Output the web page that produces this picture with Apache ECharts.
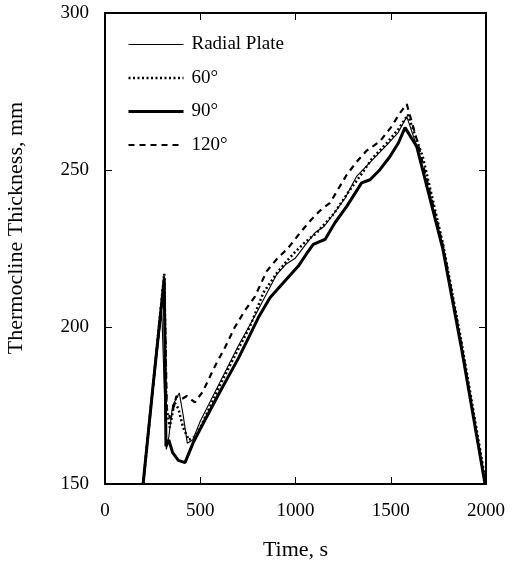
<!DOCTYPE html>
<html>
<head>
<meta charset="utf-8">
<script src="https://cdn.jsdelivr.net/npm/echarts@6/dist/echarts.min.js"></script>
<style>
html,body{margin:0;padding:0;background:#fff;}
#chart{width:517px;height:566px;}
</style>
</head>
<body>
<div id="chart"></div>
<script>
// Tick labels
const xTicks = [0, 500, 1000, 1500, 2000];
const yTicks = [150, 200, 250, 300];
const seriesNames = ['Radial Plate', '60°', '90°', '120°'];
const xTitle = 'Time, s';
const yTitle = 'Thermocline Thickness, mm';

// Radial Plate (thin solid)
const radialT = [200, 250, 298, 322, 335, 355, 390, 410, 432, 460, 500, 600, 700, 800, 901, 950, 1000, 1050, 1102, 1150, 1200, 1260, 1321, 1400, 1480, 1540, 1584, 1640, 1774, 1872, 1995];
const radialV = [150, 179, 205, 161, 165, 175, 179, 172, 163, 164, 170, 182, 194, 205, 216.7, 220, 222, 226, 230, 232, 236, 241, 248, 253, 258, 262, 267, 257, 225.5, 193.5, 150];

// 60 deg (dotted)
const deg60T = [200, 250, 311, 322, 340, 365, 385, 410, 440, 470, 500, 600, 700, 760, 831, 900, 954, 1000, 1050, 1111, 1200, 1286, 1350, 1400, 1479, 1540, 1590, 1669, 1774, 1872, 2000];
const deg60V = [150, 180, 217, 175, 168, 176, 174, 168, 164, 165, 168, 181, 193, 200, 210.9, 217, 221, 224, 227, 230, 236, 243.7, 249, 253.5, 258.6, 263, 267.6, 254, 226.5, 195, 150];

// 90 deg (thick solid)
const deg90T = [200, 250, 311, 320, 335, 355, 385, 420, 462, 500, 600, 700, 761, 805, 866, 936, 1015, 1060, 1093, 1155, 1207, 1269, 1347, 1391, 1443, 1496, 1540, 1575, 1636, 1774, 1872, 1995];
const deg90V = [150, 180, 215.5, 162, 164, 160, 157.5, 156.8, 163, 167.5, 179, 190, 197.5, 203, 209.3, 214.1, 219.4, 223.5, 226.3, 227.9, 233.2, 238.4, 245.9, 246.9, 250.1, 254.3, 258.6, 263.5, 257.5, 224.7, 193, 150];

// 120 deg (dashed)
const deg120T = [200, 250, 311, 325, 345, 375, 400, 430, 472, 514, 577, 630, 682, 735, 787, 849, 900, 962, 1024, 1080, 1129, 1181, 1269, 1320, 1374, 1443, 1500, 1548, 1584, 1640, 1774, 1872, 1995];
const deg120V = [150, 180, 215, 173, 171, 178, 177, 178, 176, 179.5, 187.5, 193.5, 200, 205.3, 209.7, 217.8, 221.5, 225.2, 230, 234, 237.1, 239.5, 248.5, 252.5, 256.2, 259.1, 263.5, 268.1, 271, 259, 226, 194, 150];

function pairs(t, v) { return t.map((x, i) => [x, v[i]]); }

const FONT = '"Liberation Serif", "Times New Roman", serif';
const chart = echarts.init(document.getElementById('chart'), null, {renderer: 'canvas'});

const axisLine = {show: true, onZero: false, lineStyle: {color: '#000', width: 2}};
const axisTick = {show: true, inside: true, length: 7, lineStyle: {color: '#000', width: 1}};

const styles = [
  {color: '#000', width: 1.1, type: 'solid'},
  {color: '#000', width: 2.5, type: [2, 2.5]},
  {color: '#000', width: 3, type: 'solid'},
  {color: '#000', width: 2.2, type: [6, 5]}
];

chart.setOption({
  animation: false,
  backgroundColor: '#fff',
  grid: {left: 105, right: 31, top: 13, bottom: 82, containLabel: false},
  legend: {
    orient: 'vertical',
    left: 122,
    top: 30,
    itemWidth: 55,
    itemHeight: 14,
    itemGap: 14.5,
    data: seriesNames.map((n, i) => ({name: n, lineStyle: styles[i]})),
    itemStyle: {opacity: 0, borderWidth: 0},
    textStyle: {fontFamily: FONT, fontSize: 19, color: '#000', padding: [0, 0, 0, 3]}
  },
  graphic: [
    {
      type: 'text', x: 16, y: 228, rotation: Math.PI / 2,
      style: {text: yTitle, fontFamily: FONT, fontSize: 22, fill: '#000', align: 'center', verticalAlign: 'middle'}
    }
  ],
  xAxis: [
    {
      type: 'value', position: 'bottom', min: 0, max: 2000, interval: 500,
      axisLine: axisLine, axisTick: axisTick, splitLine: {show: false},
      axisLabel: {fontFamily: FONT, fontSize: 19, color: '#000', margin: 18,
        formatter: v => xTicks.includes(v) ? String(v) : ''},
      name: xTitle, nameLocation: 'middle', nameGap: 55,
      nameTextStyle: {fontFamily: FONT, fontSize: 22, color: '#000'}
    },
    {
      type: 'value', position: 'top', min: 0, max: 2000, interval: 500,
      axisLine: axisLine, axisTick: axisTick, splitLine: {show: false},
      axisLabel: {show: false}
    }
  ],
  yAxis: [
    {
      type: 'value', position: 'left', min: 150, max: 300, interval: 50,
      axisLine: axisLine, axisTick: axisTick, splitLine: {show: false},
      axisLabel: {fontFamily: FONT, fontSize: 19, color: '#000', margin: 16,
        formatter: v => yTicks.includes(v) ? String(v) : ''}
    },
    {
      type: 'value', position: 'right', min: 150, max: 300, interval: 50,
      axisLine: axisLine, axisTick: axisTick, splitLine: {show: false},
      axisLabel: {show: false}
    }
  ],
  series: seriesNames.map((n, i) => ({
    name: n, type: 'line', symbol: 'none',
    data: [pairs(radialT, radialV), pairs(deg60T, deg60V), pairs(deg90T, deg90V), pairs(deg120T, deg120V)][i],
    lineStyle: styles[i], itemStyle: {color: '#000'}, clip: true
  }))
});
</script>
</body>
</html>
